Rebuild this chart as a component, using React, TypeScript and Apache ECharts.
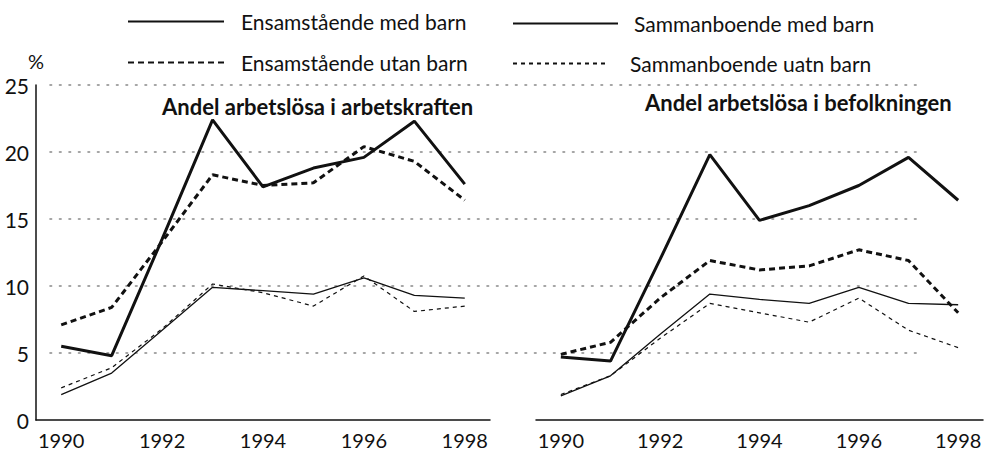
import React, { useEffect, useRef } from "react";
import * as echarts from "echarts";

const years = ["1990", "1991", "1992", "1993", "1994", "1995", "1996", "1997", "1998"];
const yTicks = [0, 5, 10, 15, 20, 25];

const seriesNames = [
  "Ensamstående med barn",
  "Ensamstående utan barn",
  "Sammanboende med barn",
  "Sammanboende uatn barn",
];

const panelTitles = ["Andel arbetslösa i arbetskraften", "Andel arbetslösa i befolkningen"];

// Panel 1: Andel arbetslösa i arbetskraften
const kraftEnsMed = [5.5, 4.8, 13.5, 22.4, 17.4, 18.8, 19.6, 22.3, 17.6];
const kraftEnsUtan = [7.1, 8.4, 13.3, 18.3, 17.5, 17.7, 20.4, 19.3, 16.4];
const kraftSamMed = [1.9, 3.5, 6.7, 9.9, 9.65, 9.4, 10.6, 9.3, 9.1];
const kraftSamUtan = [2.4, 3.9, 6.8, 10.15, 9.5, 8.5, 10.75, 8.1, 8.5];

// Panel 2: Andel arbetslösa i befolkningen
const befEnsMed = [4.7, 4.4, 12.0, 19.8, 14.9, 16.0, 17.5, 19.6, 16.4];
const befEnsUtan = [4.9, 5.8, 9.1, 11.9, 11.2, 11.5, 12.7, 11.9, 8.0];
const befSamMed = [1.8, 3.3, 6.4, 9.4, 9.0, 8.7, 9.9, 8.7, 8.6];
const befSamUtan = [1.9, 3.3, 6.1, 8.7, 8.0, 7.3, 9.1, 6.7, 5.4];

const FONT = "Lato, 'Open Sans', sans-serif";

const styles = [
  { width: 3, type: "solid" as any },
  { width: 3, type: [6, 4] as any },
  { width: 1.3, type: "solid" as any },
  { width: 1.2, type: [4, 4] as any },
];

export default function App() {
  const ref = useRef<HTMLDivElement>(null);
  useEffect(() => {
    if (!ref.current) return;
    const chart = echarts.init(ref.current, undefined, { renderer: "svg" });
    const panels = [
      [kraftEnsMed, kraftEnsUtan, kraftSamMed, kraftSamUtan],
      [befEnsMed, befEnsUtan, befSamMed, befSamUtan],
    ];
    const series: any[] = [];
    panels.forEach((p, pi) => {
      p.forEach((data, si) => {
        series.push({
          type: "line",
          name: seriesNames[si],
          data,
          xAxisIndex: pi,
          yAxisIndex: pi,
          symbol: "none",
          z: 5,
          lineStyle: { color: "#111", width: styles[si].width, type: styles[si].type },
          itemStyle: { color: "#111" },
        });
      });
    });

    const legendPos = [
      { left: 127, top: 11, w: 96 },
      { left: 127, top: 52, w: 96 },
      { left: 512, top: 13, w: 105 },
      { left: 512, top: 53, w: 96 },
    ];
    const pads = [12, 12, 11, 16];

    const xAxisCommon = {
      type: "category",
      data: years,
      boundaryGap: true,
      axisTick: { show: false },
      axisLine: { lineStyle: { color: "#111", width: 1.5 } },
      axisLabel: {
        interval: 1,
        color: "#111",
        fontSize: 20,
        lineHeight: 14,
        fontFamily: FONT,
        margin: 13,
      },
      splitLine: { show: false },
    };

    chart.setOption({
      animation: false,
      backgroundColor: "#fff",
      title: [
        {
          text: panelTitles[0],
          left: 162,
          top: 95,
          padding: 0,
          textStyle: { fontFamily: FONT, fontWeight: "bold", fontSize: 22, color: "#111" },
        },
        {
          text: panelTitles[1],
          left: 645,
          top: 91,
          padding: 0,
          textStyle: { fontFamily: FONT, fontWeight: "bold", fontSize: 22, color: "#111" },
        },
      ],
      legend: seriesNames.map((n, i) => ({
        data: [n],
        left: legendPos[i].left,
        top: legendPos[i].top,
        padding: 0,
        itemWidth: legendPos[i].w,
        itemHeight: 16,
        selectedMode: false,
        itemStyle: { opacity: 0 },
        textStyle: {
          fontFamily: FONT,
          fontSize: 21,
          color: "#111",
          padding: [0, 0, 0, pads[i]],
        },
      })),
      grid: [
        { left: 36, top: 85, width: 454, height: 335, containLabel: false },
        { left: 536, top: 85, width: 447, height: 335, containLabel: false },
        { left: 50, top: 85, width: 867, height: 268, containLabel: false },
      ],
      xAxis: [
        { ...xAxisCommon, gridIndex: 0 },
        { ...xAxisCommon, gridIndex: 1 },
        { type: "value", gridIndex: 2, min: 0, max: 1, show: false },
      ],
      yAxis: [
        {
          type: "value",
          gridIndex: 0,
          min: yTicks[0],
          max: yTicks[yTicks.length - 1],
          interval: 5,
          name: "%",
          nameLocation: "end",
          nameGap: 14,
          nameTextStyle: { fontFamily: FONT, fontSize: 20, color: "#111", align: "center" },
          axisLine: { show: true, lineStyle: { color: "#111", width: 1.5 } },
          axisTick: { show: false },
          axisLabel: { color: "#111", fontSize: 21, fontFamily: FONT, margin: 7 },
          splitLine: { show: false },
        },
        {
          type: "value",
          gridIndex: 1,
          min: yTicks[0],
          max: yTicks[yTicks.length - 1],
          interval: 5,
          show: false,
          splitLine: { show: false },
        },
        {
          type: "value",
          gridIndex: 2,
          min: 5,
          max: 25,
          interval: 5,
          axisLine: { show: false },
          axisTick: { show: false },
          axisLabel: { show: false },
          splitLine: {
            show: true,
            lineStyle: { color: "#888", width: 1.6, type: [1.6, 7.9], cap: "round" },
          },
        },
      ],
      series,
    });
    return () => chart.dispose();
  }, []);
  return (
    <div
      ref={ref}
      style={{ position: "fixed", left: 0, top: 0, width: 989, height: 453, background: "#fff" }}
    />
  );
}
